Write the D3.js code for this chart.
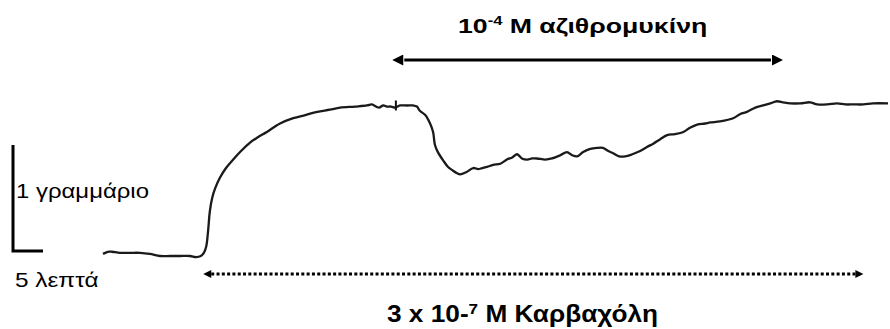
<!DOCTYPE html>
<html>
<head>
<meta charset="utf-8">
<script src="https://cdn.jsdelivr.net/npm/d3@7"></script>
<style>
	body { margin: 0; background: #fff; }
	svg { display: block; }
</style>
</head>
<body>
<script>
// Trace: time in minutes, tension in grams (above resting baseline)
var TIME = [
	0, 0.8, 1.5, 2.8, 4.5, 6.2, 7.8, 9.5, 11.2, 12.8, 14.5, 15.5, 16.3, 16.8, 17.2, 17.5, 17.8, 18.2, 18.7, 19.5,
	20.5, 21.7, 23, 24.5, 25.8, 27.3, 29.5, 31.7, 33.7, 35.7, 37.8, 39.5, 42, 44, 44.8, 45.5, 46, 46.7, 47.3, 48,
	48.7, 49.5, 50.7, 51.7, 52.3, 52.8, 53.7, 54.5, 55, 55.3, 55.8, 56.7, 57.5, 58.2, 59, 59.5, 60.5, 61.7, 62.5, 63.2,
	64, 65, 66.2, 67.3, 68.2, 69, 69.8, 70.7, 71.5, 72.3, 73.7, 74.8, 76.2, 77.3, 78.2, 79, 80, 81.2, 82.3, 83.3,
	84.2, 85, 86, 87, 88.2, 89.5, 90.7, 91.7, 92.8, 94, 95.3, 96.7, 97.8, 99, 100.3, 101.2, 102.8, 105, 106.2, 107.3,
	108.7, 110, 111.2, 112.3, 113.3, 114.5, 116.2, 117.8, 119, 120.7, 122.3, 123.7, 125, 126.7, 128.3, 130.8
];
var TENSION = [
	0.02, 0.04, 0.04, 0.03, 0.03, 0.03, 0.02, 0, 0, 0, 0, -0.01, 0, 0.03, 0.09, 0.23, 0.42, 0.55, 0.64, 0.74,
	0.83, 0.91, 0.99, 1.07, 1.12, 1.17, 1.25, 1.30, 1.33, 1.36, 1.38, 1.40, 1.41, 1.42, 1.43, 1.41, 1.40, 1.42, 1.41, 1.41,
	1.40, 1.42, 1.42, 1.42, 1.41, 1.37, 1.33, 1.25, 1.17, 1.05, 0.98, 0.90, 0.84, 0.81, 0.78, 0.77, 0.79, 0.83, 0.82, 0.83,
	0.84, 0.86, 0.87, 0.91, 0.93, 0.96, 0.92, 0.91, 0.92, 0.92, 0.91, 0.92, 0.95, 0.98, 0.95, 0.94, 0.98, 1.01, 1.02, 1.02,
	0.99, 0.97, 0.94, 0.94, 0.96, 0.99, 1.03, 1.06, 1.10, 1.14, 1.15, 1.17, 1.21, 1.24, 1.25, 1.26, 1.27, 1.30, 1.34, 1.36,
	1.40, 1.42, 1.44, 1.46, 1.45, 1.44, 1.44, 1.45, 1.43, 1.43, 1.44, 1.43, 1.43, 1.43, 1.44, 1.44
];

// drug additions: [label parts], start, end in minutes
var DRUG_LABELS = [
	["10", "-4", " M αζιθρομυκίνη"],
	["3 x 10-", "7", " M Καρβαχόλη"]
];
var DRUG_START = [48.2, 16.7];
var DRUG_END = [113.3, 126.7];
var MARK_TIME = [48.8]; // small tick on the trace

// scale bar
var BAR_MINUTES = 5;
var BAR_GRAMS = 1;
var BAR_LABELS = ["1 γραμμάριο", "5 λεπτά"];

var W = 890, H = 329;
var FONT = 'Arial, "Liberation Sans", sans-serif';

var x = d3.scaleLinear().domain([0, 130.8]).range([103, 888]);
var y = d3.scaleLinear().domain([0, 1]).range([256, 150]);

var svg = d3.select("body").append("svg").attr("width", W).attr("height", H);

// arrow heads (big for solid arrow, small for dotted one)
var defs = svg.append("defs");
[["headBig", 13, 11], ["headSmall", 9, 8]].forEach(function(m){
	defs.append("marker")
		.attr("id", m[0])
		.attr("viewBox", "0 0 10 10")
		.attr("refX", 10)
		.attr("refY", 5)
		.attr("markerUnits", "userSpaceOnUse")
		.attr("markerWidth", m[1])
		.attr("markerHeight", m[2])
		.attr("orient", "auto")
		.append("path").attr("d", "M0,0 L10,5 L0,10 z").attr("fill", "#000");
});

// trace
var pts = TIME.map(function(t, i){ return [t, TENSION[i]]; });
var line = d3.line()
	.x(function(d){ return x(d[0]); })
	.y(function(d){ return y(d[1]); })
	.curve(d3.curveCatmullRom.alpha(0.5));

svg.append("path")
	.datum(pts)
	.attr("d", line)
	.attr("fill", "none")
	.attr("stroke", "#1a1a1a")
	.attr("stroke-width", 2.3)
	.attr("stroke-linejoin", "round");

// addition mark
var bis = d3.bisector(function(d){ return d[0]; }).left;
MARK_TIME.forEach(function(t){
	var g = pts[Math.min(bis(pts, t), pts.length - 1)][1];
	svg.append("line")
		.attr("x1", x(t)).attr("x2", x(t))
		.attr("y1", y(g) - 5).attr("y2", y(g) + 5)
		.attr("stroke", "#111").attr("stroke-width", 2);
});

// text helper, stretched horizontally like the scanned figure
var addText = function(parent, tx, ty, sx, size, bold){
	return parent.append("text")
		.attr("transform", "translate(" + tx + "," + ty + ") scale(" + sx + ",1)")
		.style("font-family", FONT)
		.style("font-size", size + "px")
		.style("font-weight", bold ? "bold" : "normal");
};

// scale bar
var bar = svg.append("g").attr("class", "scale-bar");
var bx = 13, by = 251;
bar.append("path")
	.attr("d", "M" + bx + "," + (by - (y(0) - y(BAR_GRAMS))) + " V" + by + " H" + (bx + x(BAR_MINUTES) - x(0)))
	.attr("fill", "none")
	.attr("stroke", "#000")
	.attr("stroke-width", 3);
addText(bar, 16, 198, 1.14, 21).text(BAR_LABELS[0]);
addText(bar, 15, 287, 1.16, 21).text(BAR_LABELS[1]);

// drug bars
var ARROW_Y = [60, 274];
var TEXT_Y = [33, 322];
var TEXT_X = [458, 387];
var TEXT_SIZE = [21, 23];
var STRETCH = [1.27, 1.14];
DRUG_LABELS.forEach(function(lab, i){
	var g = svg.append("g").attr("class", "drug-" + i);
	var head = i ? 8 : 12;
	var x0 = x(DRUG_START[i]), x1 = x(DRUG_END[i]);
	g.append("line")
		.attr("x1", x0 + head).attr("x2", x1 - head)
		.attr("y1", ARROW_Y[i]).attr("y2", ARROW_Y[i])
		.attr("stroke", "#000")
		.attr("stroke-width", 3)
		.attr("stroke-dasharray", i ? "3,2.3" : null);
	// heads as separate invisible segments so the dashes don't eat them
	[[x0 + head + 1, x0], [x1 - head - 1, x1]].forEach(function(s){
		g.append("line")
			.attr("x1", s[0]).attr("x2", s[1])
			.attr("y1", ARROW_Y[i]).attr("y2", ARROW_Y[i])
			.attr("stroke", "none")
			.attr("marker-end", i ? "url(#headSmall)" : "url(#headBig)");
	});

	var t = addText(g, TEXT_X[i], TEXT_Y[i], STRETCH[i], TEXT_SIZE[i], true);
	t.append("tspan").text(lab[0]);
	t.append("tspan").attr("dy", -8).style("font-size", (TEXT_SIZE[i] - 8) + "px").text(lab[1]);
	t.append("tspan").attr("dy", 8).text(lab[2]);
});
</script>
</body>
</html>
